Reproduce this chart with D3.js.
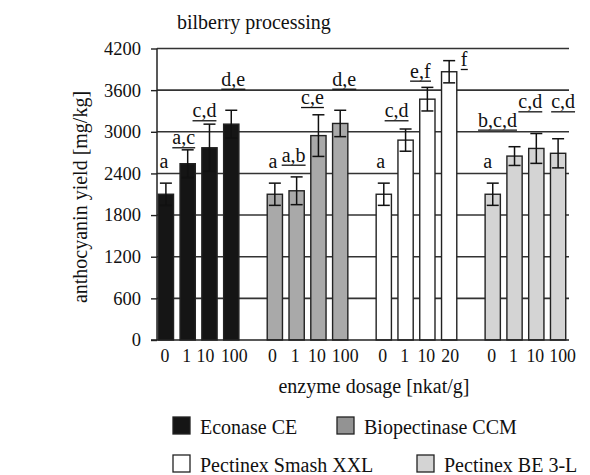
<!DOCTYPE html>
<html><head><meta charset="utf-8">
<script src="https://cdn.jsdelivr.net/npm/d3@7"></script>
<style>body{margin:0;background:#fff}svg{display:block}</style>
</head><body><svg id="c" width="590" height="475"></svg>
<script>
// ---- data ----
const enzymes = ["Econase CE", "Biopectinase CCM", "Pectinex Smash XXL", "Pectinex BE 3-L"];
const dosages = [["0","1","10","100"],["0","1","10","100"],["0","1","10","20"],["0","1","10","100"]];
const yields = [[2100,2540,2770,3110],[2100,2150,2945,3120],[2100,2880,3470,3865],[2100,2650,2760,2690]];
const errors = [[160,200,340,200],[160,200,300,190],[160,160,170,160],[160,135,215,210]];
const letters = [["a","a,c","c,d","d,e"],["a","a,b","c,e","d,e"],["a","c,d","e,f","f"],["a","b,c,d","c,d","c,d"]];
const letterLevels = [[2478,2820,3209,3664],[2478,2569,3400,3664],[2478,3209,3780,3948],[2478,3074,3338,3338]];
const yTicks = [0,600,1200,1800,2400,3000,3600,4200];

// ---- layout / style ----
const FONT = "'Liberation Serif', 'Times New Roman', Tinos, 'DejaVu Serif', serif";
const letterDx = [[-2,-4,-5,2],[-2,-3,-6,4],[-3,-9,-7,"right"],[-5,-17,-6,5]];
const doseDx = [[-1,-1,-4,3],[-2.5,-1.5,-1.5,5],[-1,-1,-1,1],[-1,-1,-1,4.5]];
const fills = ["#151515","#a9a9a9","#ffffff","#d4d4d4"];
const legendFills = ["#151515","#939393","#ffffff","#d4d4d4"];

const svg = d3.select("#c").style("font-family",FONT);
const y = d3.scaleLinear().domain([0,4200]).range([340,48.5]);
const x = d3.scaleBand().domain(d3.range(19)).range([155,569]).paddingInner(0.3).paddingOuter(0.15);
const x0 = 157, x1 = 569;
const T = (sel)=>sel.style("font-family",FONT).attr("fill","#111");

// title
T(svg.append("text")).attr("x",177).attr("y",29).attr("font-size",20).text("bilberry processing");

// gridlines
svg.append("g").selectAll("line").data(yTicks.filter(d=>d>0)).join("line")
  .attr("x1",x0).attr("x2",x1).attr("y1",d=>y(d)).attr("y2",d=>y(d))
  .attr("stroke","#333").attr("stroke-width",1.6);

// y axis
const ya = svg.append("g").attr("transform",`translate(${x0},0)`)
  .call(d3.axisLeft(y).tickValues(yTicks).tickSize(6).tickPadding(10).tickFormat(d3.format("d")));
ya.select(".domain").remove();
ya.selectAll("line").attr("stroke","#222").attr("stroke-width",1.4);
T(ya.selectAll("text")).attr("font-size",18.5);
ya.attr("font-family",null);
svg.append("line").attr("x1",x0).attr("x2",x0).attr("y1",y(4200)).attr("y2",y(0)).attr("stroke","#222").attr("stroke-width",1.5);

// bars
const flat = [];
enzymes.forEach((e,g)=>yields[g].forEach((v,i)=>flat.push({g,i,v,err:errors[g][i],slot:g*5+i,dose:dosages[g][i],lab:letters[g][i],lev:letterLevels[g][i],dx:letterDx[g][i],ddx:doseDx[g][i]})));

svg.append("g").selectAll("rect").data(flat).join("rect")
  .attr("x",d=>x(d.slot)).attr("width",x.bandwidth())
  .attr("y",d=>y(d.v)).attr("height",d=>y(0)-y(d.v))
  .attr("fill",d=>fills[d.g]).attr("stroke","#222").attr("stroke-width",1.4);

// error bars
const eb = svg.append("g").attr("stroke","#111").attr("stroke-width",1.5);
const cw = 6;
flat.forEach(d=>{
  const cx = x(d.slot)+x.bandwidth()/2;
  eb.append("line").attr("x1",cx).attr("x2",cx).attr("y1",y(d.v+d.err)).attr("y2",y(d.v-d.err));
  eb.append("line").attr("x1",cx-cw).attr("x2",cx+cw).attr("y1",y(d.v+d.err)).attr("y2",y(d.v+d.err));
  eb.append("line").attr("x1",cx-cw).attr("x2",cx+cw).attr("y1",y(d.v-d.err)).attr("y2",y(d.v-d.err));
});

// x axis line
svg.append("line").attr("x1",151).attr("x2",x1).attr("y1",y(0)).attr("y2",y(0)).attr("stroke","#222").attr("stroke-width",1.6);

// dosage labels
T(svg.append("g").selectAll("text").data(flat).join("text"))
  .attr("x",d=>x(d.slot)+x.bandwidth()/2+d.ddx).attr("y",362)
  .attr("text-anchor","middle").attr("font-size",17.8).text(d=>d.dose);

// significance letters
const lg = svg.append("g");
flat.forEach(d=>{
  const cx = x(d.slot)+x.bandwidth()/2;
  const t = T(lg.append("text")).attr("y",y(d.lev)).attr("font-size",20).text(d.lab);
  if (d.dx==="right") t.attr("x",x(d.slot)+x.bandwidth()+4).attr("text-anchor","start");
  else t.attr("x",cx+d.dx).attr("text-anchor","middle");
  if (d.lab.length>1 || d.dx==="right") {
    const bb = t.node().getBBox();
    lg.append("line").attr("x1",bb.x).attr("x2",bb.x+bb.width).attr("y1",y(d.lev)+3.5).attr("y2",y(d.lev)+3.5)
      .attr("stroke","#111").attr("stroke-width",1.3);
  }
});

// axis titles
T(svg.append("text")).attr("x",374).attr("y",393).attr("text-anchor","middle").attr("font-size",20).text("enzyme dosage [nkat/g]");
T(svg.append("text")).attr("transform","translate(87,197) rotate(-90)").attr("text-anchor","middle").attr("font-size",20).text("anthocyanin yield [mg/kg]");

// legend
const legPos = [[173,417],[337,417],[173,455],[417,455]];
enzymes.forEach((e,k)=>{
  const [lx,ly] = legPos[k];
  svg.append("rect").attr("x",lx).attr("y",ly).attr("width",17).attr("height",17)
    .attr("fill",legendFills[k]).attr("stroke","#222").attr("stroke-width",1.3);
  T(svg.append("text")).attr("x",lx+27).attr("y",ly+17).attr("font-size",20).text(e);
});
</script></body></html>
